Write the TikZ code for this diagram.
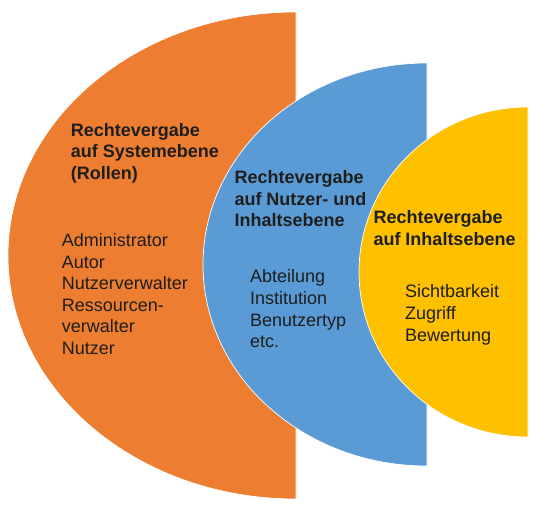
\documentclass[tikz,border=0pt]{standalone}
\usepackage{fontspec}
\setmainfont{Liberation Sans}
\definecolor{cOrange}{HTML}{ED7D31}
\definecolor{cBlue}{HTML}{5B9BD5}
\definecolor{cYellow}{HTML}{FFC000}
\definecolor{cText}{HTML}{1E1E1E}
\tikzset{
  half/.style={draw=white, line width=0.7pt},
  txt/.style={anchor=base west, inner sep=0pt, text=cText},
}
\newcommand{\blocktitle}[1]{\parbox[t]{220pt}{\fontsize{18}{21.5}\selectfont\bfseries\raggedright #1}}
\newcommand{\blockbody}[1]{\parbox[t]{220pt}{\fontsize{18}{21.6}\selectfont\raggedright #1}}
\begin{document}
\begin{tikzpicture}[x=1pt,y=-1pt]
\fill[white] (0,0) rectangle (540,510);
\useasboundingbox (0,0) rectangle (540,510);
% orange half ellipse
\path[half, fill=cOrange] (296,12) arc[start angle=270, end angle=90, x radius=288, y radius=243.5] -- cycle;
% blue half ellipse
\path[half, fill=cBlue] (427,63) arc[start angle=270, end angle=90, x radius=224, y radius=201.5] -- cycle;
% yellow half ellipse
\path[half, fill=cYellow] (528,107) arc[start angle=270, end angle=90, x radius=169, y radius=165] -- cycle;
% texts
\node[txt] (t1) at (70.7,136.5) {\blocktitle{Rechtevergabe\\auf Systemebene\\(Rollen)}};
\node[txt] (b1) at (61.7,246.5) {\blockbody{Administrator\\Autor\\Nutzerverwalter\\Ressourcen-\\verwalter\\Nutzer}};
\node[txt] (t2) at (234.3,184) {\blocktitle{Rechtevergabe\\auf Nutzer- und\\Inhaltsebene}};
\node[txt] (b2) at (250,283) {\blockbody{Abteilung\\Institution\\Benutzertyp\\etc.}};
\node[txt] (t3) at (373.3,224) {\blocktitle{Rechtevergabe\\auf Inhaltsebene}};
\node[txt] (b3) at (405,298) {\blockbody{Sichtbarkeit\\Zugriff\\Bewertung}};
\end{tikzpicture}
\end{document}
